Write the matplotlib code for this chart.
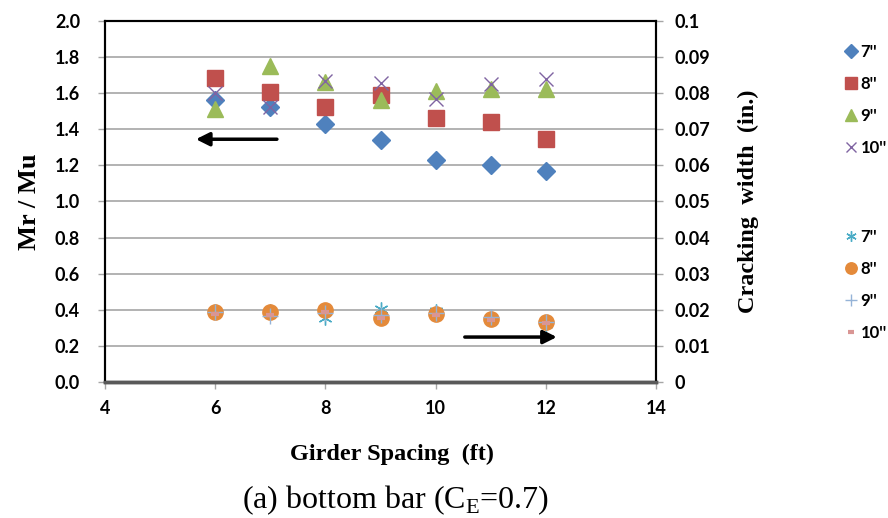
import matplotlib
matplotlib.use("Agg")
import matplotlib.pyplot as plt
from matplotlib.ticker import FuncFormatter, MultipleLocator

plt.rcParams['mathtext.fontset'] = 'custom'
plt.rcParams['mathtext.rm'] = 'Liberation Serif'

# girder spacing (ft)
spacing = [6, 7, 8, 9, 10, 11, 12]

# Mr / Mu, left axis
mr_7 = [1.565, 1.523, 1.428, 1.341, 1.230, 1.204, 1.170]
mr_8 = [1.682, 1.604, 1.526, 1.592, 1.462, 1.440, 1.349]
mr_9 = [1.510, 1.752, 1.662, 1.565, 1.612, 1.626, 1.625]
mr_10 = [1.600, 1.522, 1.667, 1.655, 1.570, 1.651, 1.677]

# cracking width (in.), right axis
cw_7 = [0.0196, 0.0196, 0.0177, 0.0203, 0.0197, 0.0178, 0.0162]
cw_8 = [0.0195, 0.0195, 0.0199, 0.0176, 0.0188, 0.0175, 0.0166]
cw_9 = [0.0195, 0.0184, 0.0190, 0.0186, 0.0192, 0.0180, 0.0167]
cw_10 = [0.0187, 0.0186, 0.0194, 0.0177, 0.0185, 0.0172, 0.0163]

labels = ["7''", "8''", "9''", "10''"]

fig = plt.figure(figsize=(8.88, 5.18), dpi=100)
ax = fig.add_axes([105 / 888, 1 - 382 / 518, 551 / 888, 361 / 518])
ax2 = ax.twinx()

tick_font = dict(family='Lato', weight='bold', size=13)
lab_font = dict(family='Liberation Serif', weight='bold', size=17.5)

# primary series
h1 = []
h1 += ax.plot(spacing, mr_7, ls='none', marker='D', ms=9, color='#4F81BD', mec='#4F81BD', zorder=3)
h1 += ax.plot(spacing, mr_8, ls='none', marker='s', ms=11, color='#C0504D', mec='#C0504D', zorder=3)
h1 += ax.plot(spacing, mr_9, ls='none', marker='^', ms=12, color='#9BBB59', mec='#9BBB59', zorder=3)
h1 += ax.plot(spacing, mr_10, ls='none', marker='x', ms=10, mew=1, color='#8064A2', zorder=3)

# secondary series
h2 = []
h2 += ax2.plot(spacing, cw_7, ls='none', marker=(6, 2, 0), ms=10, mew=1, color='#4BACC6')
h2 += ax2.plot(spacing, cw_8, ls='none', marker='o', ms=11, color='#E48A3A', mec='#E48A3A')
h2 += ax2.plot(spacing, cw_9, ls='none', marker='+', ms=11, mew=1, color='#95B3D7')
h2 += ax2.plot(spacing, cw_10, ls='none', marker='_', ms=6, mew=3, color='#D99694')

ax.set_xlim(4, 14)
ax.set_ylim(0, 2.0)
ax2.set_ylim(0, 0.1)
ax.xaxis.set_major_locator(MultipleLocator(2))
ax.yaxis.set_major_locator(MultipleLocator(0.2))
ax2.yaxis.set_major_locator(MultipleLocator(0.01))
ax.yaxis.set_major_formatter(FuncFormatter(lambda v, p: '%.1f' % v))
ax2.yaxis.set_major_formatter(FuncFormatter(lambda v, p: '%g' % round(v, 3)))

ax.grid(axis='y', color='#A6A6A6', lw=1.2)
ax.set_axisbelow(True)

for a in (ax, ax2):
    for s in a.spines.values():
        s.set_color('black')
        s.set_linewidth(1.5)
    a.spines['bottom'].set_color('#595959')
    a.spines['bottom'].set_linewidth(2.5)
    a.tick_params(direction='out', length=5, width=1, color='#A6A6A6')
    for t in a.get_xticklabels() + a.get_yticklabels():
        t.set_fontfamily(tick_font['family'])
        t.set_fontweight(tick_font['weight'])
        t.set_fontsize(tick_font['size'])
ax.tick_params(axis='y', pad=13)
ax.tick_params(axis='x', pad=8)
ax2.tick_params(axis='y', pad=8)

ax.set_xlabel('Girder Spacing  (ft)', **lab_font)
ax.set_ylabel('Mr / Mu', family='Liberation Serif', weight='bold', size=19)
ax2.set_ylabel('Cracking  width  (in.)', **lab_font)
ax.xaxis.set_label_coords((392 - 105) / 551, (382 - 454) / 361)
ax.yaxis.set_label_coords((30 - 105) / 551, 0.5)
ax2.yaxis.set_label_coords((748 - 105) / 551, 0.5)
for lab in (ax.xaxis.label, ax.yaxis.label, ax2.yaxis.label):
    lab.set_va('center')

# direction arrows
ax.annotate('', xy=(5.65, 1.345), xytext=(7.12, 1.345),
            arrowprops=dict(arrowstyle='-|>', color='black', lw=2.5, mutation_scale=20, shrinkA=0, shrinkB=0))
ax.annotate('', xy=(12.2, 0.249), xytext=(10.53, 0.249),
            arrowprops=dict(arrowstyle='-|>', color='black', lw=2.5, mutation_scale=20, shrinkA=0, shrinkB=0))

leg_kw = dict(loc='upper left', frameon=False, handlelength=0.6, handletextpad=0.25,
              borderpad=0, labelspacing=0.95, markerscale=0.75,
              prop=dict(family='Lato', weight='bold', size=12))
fig.legend(h1, labels, bbox_to_anchor=(838 / 888, 1 - 36 / 518), **leg_kw)
fig.legend(h2, labels, bbox_to_anchor=(838 / 888, 1 - 221 / 518), **leg_kw)

fig.text(396 / 888, 1 - 500 / 518, '(a) bottom bar (C$_{\\mathrm{E}}$=0.7)',
         ha='center', va='center', family='Liberation Serif', size=23)

fig.savefig('out.png', dpi=100)
